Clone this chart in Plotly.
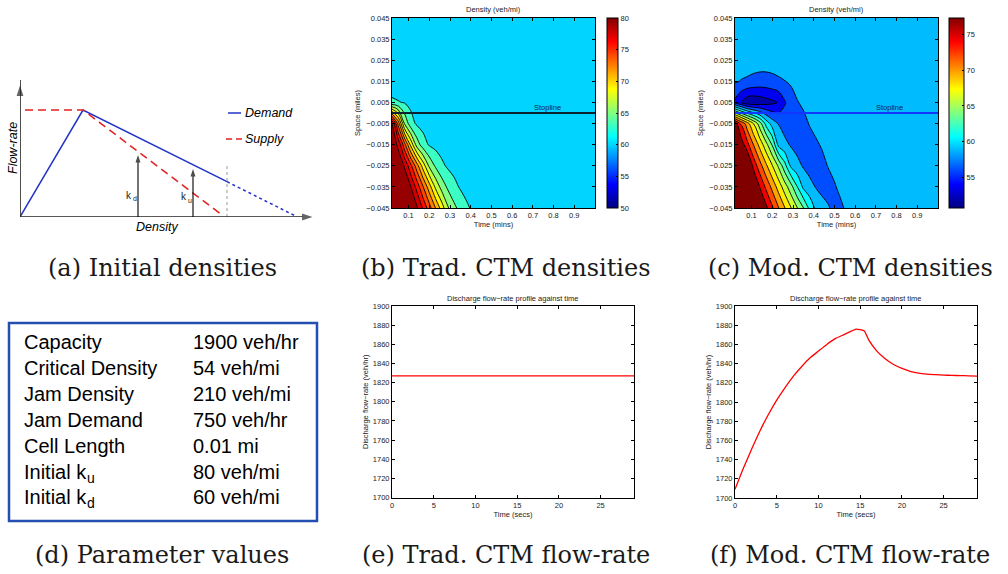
import plotly.graph_objects as go

W, H = 1008, 574


def px(X):
    return X / W


def py(Y):
    return 1 - Y / H


# ---------------- data ----------------
space = [-0.045, -0.035, -0.025, -0.015, -0.005, 0.005, 0.015, 0.025, 0.035, 0.045]
space_ticks = [-0.045, -0.035, -0.025, -0.015, -0.005, 0.005, 0.015, 0.025, 0.035, 0.045]
space_ticktext = ["\u22120.045", "\u22120.035", "\u22120.025", "\u22120.015", "\u22120.005",
                  "0.005", "0.015", "0.025", "0.035", "0.045"]
time_ticks = [0.1, 0.2, 0.3, 0.4, 0.5, 0.6, 0.7, 0.8, 0.9]

# (b) traditional CTM density (veh/mi), rows = cells (bottom -> top), columns = time (mins)
time_b = [0.02, 0.05, 0.08, 0.11, 0.14, 0.17, 0.2, 0.23, 0.26, 0.29, 0.32, 0.35, 0.38,
          0.41, 0.45, 0.5, 0.6, 0.7, 0.8, 0.9, 1.0]
dens_b = [
    [80, 80, 80, 80, 79.3, 76.7, 73.9, 71.0, 68.1, 65.2, 63.5, 62.3, 61.3, 60.7, 60.3, 60.1, 60, 60, 60, 60, 60],
    [80, 80, 80, 79.1, 76.3, 73.1, 69.9, 66.6, 64.2, 62.6, 61.5, 60.8, 60.4, 60.2, 60.1, 60, 60, 60, 60, 60, 60],
    [80, 80, 78.9, 75.6, 71.9, 68.1, 64.6, 62.7, 61.4, 60.7, 60.4, 60.2, 60.1, 60, 60, 60, 60, 60, 60, 60, 60],
    [80, 78.7, 73.8, 68.6, 64.1, 61.9, 60.8, 60.4, 60.2, 60.1, 60, 60, 60, 60, 60, 60, 60, 60, 60, 60, 60],
    [79.3, 72.3, 64.9, 61.8, 60.7, 60.3, 60.1, 60, 60, 60, 60, 60, 60, 60, 60, 60, 60, 60, 60, 60, 60],
    [61.3, 61.1, 60.9, 60.5, 60.2, 60.1, 60, 60, 60, 60, 60, 60, 60, 60, 60, 60, 60, 60, 60, 60, 60],
    [60, 60, 60, 60, 60, 60, 60, 60, 60, 60, 60, 60, 60, 60, 60, 60, 60, 60, 60, 60, 60],
    [60, 60, 60, 60, 60, 60, 60, 60, 60, 60, 60, 60, 60, 60, 60, 60, 60, 60, 60, 60, 60],
    [60, 60, 60, 60, 60, 60, 60, 60, 60, 60, 60, 60, 60, 60, 60, 60, 60, 60, 60, 60, 60],
    [60, 60, 60, 60, 60, 60, 60, 60, 60, 60, 60, 60, 60, 60, 60, 60, 60, 60, 60, 60, 60],
]

# (c) modified CTM density (veh/mi)
time_c = [0.02, 0.05, 0.08, 0.11, 0.14, 0.17, 0.2, 0.23, 0.26, 0.29, 0.32, 0.35, 0.38,
          0.41, 0.44, 0.47, 0.5, 0.53, 0.56, 0.6, 0.7, 0.8, 0.9, 1.0]
dens_c = [
    [80, 80, 80, 80, 79.5, 77.5, 75.3, 73.1, 71.1, 69.1, 67.1, 65.1, 62.5, 60.6, 59.9, 59.2, 58.4, 58.6, 59.4, 59.8, 60, 60, 60, 60],
    [80, 80, 80, 80, 76.9, 74.6, 72.4, 70.2, 68.0, 65.8, 63.1, 60.6, 59.7, 58.9, 58.3, 58.1, 58.8, 59.5, 59.8, 60, 60, 60, 60, 60],
    [80, 80, 80, 76.3, 73.8, 71.4, 69.1, 66.7, 63.7, 60.6, 59.6, 58.8, 58.2, 58.0, 58.4, 59.1, 59.6, 59.8, 60, 60, 60, 60, 60, 60],
    [80, 78.2, 75.6, 72.9, 70.3, 67.7, 64.8, 60.4, 59.5, 58.8, 58.3, 58.1, 58.3, 58.7, 59.2, 59.6, 59.8, 60, 60, 60, 60, 60, 60, 60],
    [78, 74.7, 71.8, 68.9, 65.9, 62.3, 60.1, 58.9, 58.2, 58.0, 58.2, 58.5, 59.1, 59.6, 59.8, 60, 60, 60, 60, 60, 60, 60, 60, 60],
    [56.5, 54.9, 53.6, 53.5, 53.8, 54.2, 54.6, 55.1, 56.8, 58.0, 58.9, 59.3, 59.6, 59.8, 60, 60, 60, 60, 60, 60, 60, 60, 60, 60],
    [59.2, 58.9, 58.7, 58.4, 58.2, 58.2, 58.4, 58.7, 58.95, 59.3, 59.6, 59.8, 60, 60, 60, 60, 60, 60, 60, 60, 60, 60, 60, 60],
    [60, 60, 60, 60, 60, 60, 60, 60, 60, 60, 60, 60, 60, 60, 60, 60, 60, 60, 60, 60, 60, 60, 60, 60],
    [60, 60, 60, 60, 60, 60, 60, 60, 60, 60, 60, 60, 60, 60, 60, 60, 60, 60, 60, 60, 60, 60, 60, 60],
    [60, 60, 60, 60, 60, 60, 60, 60, 60, 60, 60, 60, 60, 60, 60, 60, 60, 60, 60, 60, 60, 60, 60, 60],
]
stopline = 0.0

# colour-key ranges and ticks
cbar_b_range = [50, 80]
cbar_b_ticks = [50, 55, 60, 65, 70, 75, 80]
cbar_c_range = [50.65, 77.35]
cbar_c_ticks = [55, 60, 65, 70, 75]

# (e), (f) discharge flow-rate (veh/hr) against time (secs)
time_e = [0, 5, 10, 15, 20, 25, 29]
flow_e = [1827, 1827, 1827, 1827, 1827, 1827, 1827]
time_f = [0, 1, 2, 3, 4, 5, 6, 7, 8, 9, 10, 11, 12, 13, 14, 14.5, 15.5, 16, 17, 18, 19,
          20, 21, 22, 23, 24, 25, 26, 27, 28, 29]
flow_f = [1709, 1731, 1751, 1770, 1787, 1802, 1815, 1827, 1837, 1846, 1853, 1860, 1866,
          1870, 1874, 1876, 1874, 1865, 1853, 1845, 1839, 1835, 1832, 1830, 1829, 1828.5,
          1828, 1827.7, 1827.5, 1827.3, 1827]
flow_xticks = [0, 5, 10, 15, 20, 25]
flow_yticks = [1700, 1720, 1740, 1760, 1780, 1800, 1820, 1840, 1860, 1880, 1900]

# (d) parameter table (name, subscript, value)
param_names = ["Capacity", "Critical Density", "Jam Density", "Jam Demand", "Cell Length",
               "Initial k", "Initial k"]
param_subs = ["", "", "", "", "", "u", "d"]
param_values = ["1900 veh/hr", "54 veh/mi", "210 veh/mi", "750 veh/hr", "0.01 mi",
                "80 veh/mi", "60 veh/mi"]

# (a) schematic demand / supply diagram (arbitrary units)
fd_demand_k = [0, 63, 207]
fd_demand_q = [0, 107, 35.3]
fd_demand_ext_k = [207, 277]
fd_demand_ext_q = [35.3, 0.3]
fd_supply_k = [5, 63, 203]
fd_supply_q = [107, 107, 1.3]
fd_limit_k = 207
fd_limit_q = 52
fd_kd, fd_kd_q = 118, 66
fd_ku, fd_ku_q = 173, 52
fd_xmax, fd_ymax = 298, 137

captions = ["(a) Initial densities", "(b) Trad. CTM densities", "(c) Mod. CTM densities",
            "(d) Parameter values", "(e) Trad. CTM flow-rate", "(f) Mod. CTM flow-rate"]


# ---------------- styling helpers ----------------
def jet(n):
    n = min(max(n, 0.0), 1.0)
    r = min(max(1.5 - abs(4 * n - 3), 0), 1)
    g = min(max(1.5 - abs(4 * n - 2), 0), 1)
    b = min(max(1.5 - abs(4 * n - 1), 0), 1)
    return "rgb(%d,%d,%d)" % (round(255 * r), round(255 * g), round(255 * b))


jet_cs = [[s, jet(s)] for s in [0, 0.125, 0.375, 0.625, 0.875, 1]]


def band_scale(values, lo, hi):
    n = len(values) - 1
    return [[k / n, jet((v - lo) / (hi - lo))] for k, v in enumerate(values)]


band_vals_b = [60, 63, 65, 67, 69, 70.8, 72.5, 74.2, 75.9, 77.6, 79.3]
band_vals_c = [51.7, 53.6, 56.0, 58.9, 60.5, 62.4, 64.2, 66.0, 67.9, 69.8, 72.0, 74.5, 77.35]

SANS = "Liberation Sans"
TICKFONT = dict(family=SANS, size=7.5, color="#222")
TITLEFONT = dict(family=SANS, size=7.5, color="#222")


def ax_style(title, standoff, **kw):
    d = dict(showline=True, linecolor="black", linewidth=1, mirror="ticks", ticks="inside",
             ticklen=3, tickwidth=0.8, tickcolor="black", showgrid=False, zeroline=False,
             tickfont=TICKFONT, fixedrange=True, automargin=False,
             title=dict(text=title, font=TITLEFONT, standoff=standoff))
    d.update(kw)
    return d


fig = go.Figure()

# (b) contour
fig.add_trace(go.Contour(
    x=time_b, y=space, z=dens_b, xaxis="x", yaxis="y", autocontour=False,
    contours=dict(start=61, end=79, size=2, coloring="fill", showlines=True),
    line=dict(color="black", width=0.9, smoothing=1),
    colorscale=band_scale(band_vals_b, *cbar_b_range), showscale=False, hoverinfo="skip"))
fig.add_trace(go.Scatter(x=[time_b[0], time_b[-1]], y=[stopline, stopline], xaxis="x", yaxis="y",
                         mode="lines", line=dict(color="#0c2430", width=2.2), hoverinfo="skip"))
fig.add_trace(go.Scatter(
    x=[time_b[-1]], y=[stopline], xaxis="x", yaxis="y", mode="markers", hoverinfo="skip",
    marker=dict(size=1, opacity=0, color=[cbar_b_range[0]], colorscale=jet_cs,
                cmin=cbar_b_range[0], cmax=cbar_b_range[1], showscale=True,
                colorbar=dict(x=px(607), xanchor="left", xref="paper", y=py(113), yanchor="middle",
                              yref="paper", len=190, lenmode="pixels", thickness=11,
                              thicknessmode="pixels", xpad=0, ypad=0, outlinewidth=1,
                              outlinecolor="black", tickvals=cbar_b_ticks, ticks="inside",
                              ticklen=2, tickcolor="black", tickfont=TICKFONT))))

# (c) contour
fig.add_trace(go.Contour(
    x=time_c, y=space, z=dens_c, xaxis="x2", yaxis="y2", autocontour=False,
    contours=dict(start=55, end=77, size=2, coloring="fill", showlines=True),
    line=dict(color="black", width=0.9, smoothing=1),
    colorscale=band_scale(band_vals_c, *cbar_c_range), showscale=False, hoverinfo="skip"))
fig.add_trace(go.Scatter(x=[time_c[0], time_c[-1]], y=[stopline, stopline], xaxis="x2", yaxis="y2",
                         mode="lines", line=dict(color="#1238ff", width=2.2), hoverinfo="skip"))
fig.add_trace(go.Scatter(
    x=[time_c[-1]], y=[stopline], xaxis="x2", yaxis="y2", mode="markers", hoverinfo="skip",
    marker=dict(size=1, opacity=0, color=[cbar_c_range[0]], colorscale=jet_cs,
                cmin=cbar_c_range[0], cmax=cbar_c_range[1], showscale=True,
                colorbar=dict(x=px(949), xanchor="left", xref="paper", y=py(113), yanchor="middle",
                              yref="paper", len=190, lenmode="pixels", thickness=15,
                              thicknessmode="pixels", xpad=0, ypad=0, outlinewidth=1,
                              outlinecolor="black", tickvals=cbar_c_ticks, ticks="inside",
                              ticklen=2, tickcolor="black", tickfont=TICKFONT))))

# (e), (f) flow-rate lines
fig.add_trace(go.Scatter(x=time_e, y=flow_e, xaxis="x3", yaxis="y3", mode="lines",
                         line=dict(color="#ff0000", width=1.3), hoverinfo="skip"))
fig.add_trace(go.Scatter(x=time_f, y=flow_f, xaxis="x4", yaxis="y4", mode="lines",
                         line=dict(color="#ff0000", width=1.3, shape="spline", smoothing=0.4),
                         hoverinfo="skip"))

# (a) schematic diagram
BLUE = "#2233c8"
RED = "#e42020"
fig.add_trace(go.Scatter(x=fd_demand_k, y=fd_demand_q, xaxis="x5", yaxis="y5", mode="lines",
                         line=dict(color=BLUE, width=1.5), cliponaxis=False, hoverinfo="skip"))
fig.add_trace(go.Scatter(x=fd_demand_ext_k, y=fd_demand_ext_q, xaxis="x5", yaxis="y5", mode="lines",
                         line=dict(color=BLUE, width=1.5, dash="dot"), cliponaxis=False,
                         hoverinfo="skip"))
fig.add_trace(go.Scatter(x=fd_supply_k, y=fd_supply_q, xaxis="x5", yaxis="y5", mode="lines",
                         line=dict(color=RED, width=1.5, dash="8px,5px"), cliponaxis=False,
                         hoverinfo="skip"))
fig.add_trace(go.Scatter(x=[fd_limit_k, fd_limit_k], y=[0, fd_limit_q], xaxis="x5", yaxis="y5",
                         mode="lines", line=dict(color="#9a9a9a", width=1, dash="dot"),
                         cliponaxis=False, hoverinfo="skip"))


def arrow_trace(xs, ys, color, width, head):
    # a line whose last point carries an arrow-head marker oriented along the line
    fig.add_trace(go.Scatter(
        x=xs, y=ys, xaxis="x5", yaxis="y5", mode="lines+markers", cliponaxis=False,
        hoverinfo="skip", line=dict(color=color, width=width),
        marker=dict(symbol="arrow", angleref="previous", size=[0, head], color=color,
                    line=dict(width=0), standoff=head / 2)))


arrow_trace([0, fd_xmax], [0, 0], "#222", 1.6, 11)
arrow_trace([0, 0], [0, fd_ymax], "#222", 1.6, 11)
arrow_trace([fd_kd, fd_kd], [0, fd_kd_q], "black", 1.1, 8)
arrow_trace([fd_ku, fd_ku], [0, fd_ku_q], "black", 1.1, 8)

annotations = []


def txt(text, X, Y, size, family=SANS, color="black", xanchor="center", angle=0, yanchor="middle",
        pad=1):
    annotations.append(dict(text=text, x=px(X), y=py(Y), xref="paper", yref="paper",
                            xanchor=xanchor, yanchor=yanchor, showarrow=False, textangle=angle,
                            borderpad=pad, font=dict(family=family, size=size, color=color)))


txt("<i>Flow-rate</i>", 13, 148, 12.5, angle=-90)
txt("<i>Density</i>", 157, 227, 12.5)
txt("<i>Demand</i>", 243, 113, 12.5, xanchor="left")
txt("<i>Supply</i>", 243, 139, 12.5, xanchor="left")
# k_d and k_u labels (main letter + subscript)
txt("k", 133, 195, 10, color="#222", xanchor="right", pad=0)
txt("d", 132, 199, 7, color="#222", xanchor="left", pad=0)
txt("k", 187.5, 196, 10, color="#222", xanchor="right", pad=0)
txt("u", 186.5, 200, 7, color="#222", xanchor="left", pad=0)

shapes = [
    dict(type="line", xref="paper", yref="paper", x0=px(228), x1=px(241), y0=py(113), y1=py(113),
         line=dict(color=BLUE, width=1.5)),
    dict(type="line", xref="paper", yref="paper", x0=px(226), x1=px(242), y0=py(139), y1=py(139),
         line=dict(color=RED, width=1.5, dash="6px,4px")),
    dict(type="rect", xref="paper", yref="paper", x0=px(9), x1=px(317), y0=py(521), y1=py(323),
         line=dict(color="#2350b0", width=2.5)),
]

# (d) table text
row_y = [342, 368, 394, 420, 446, 472, 497]
for name, sub, val, Y in zip(param_names, param_subs, param_values, row_y):
    txt(name, 22, Y, 20, xanchor="left")
    if sub:
        txt(sub, 84.5, Y + 6, 14, xanchor="left")
    txt(val, 191, Y, 20, xanchor="left")

# panel titles
for cx in (493.5, 836.5):
    txt("Density (veh/mi)", cx, 9.5, 7.5, color="#222")
for cx in (513, 856):
    txt("Discharge flow\u2212rate profile against time", cx, 298.5, 7.5, color="#222")

# stopline labels
for xr, yr, tx in (("x", "y", 0.773), ("x2", "y2", 0.767)):
    annotations.append(dict(text="Stopline", x=tx, y=stopline, xref=xr, yref=yr, yshift=5,
                            showarrow=False, font=dict(family=SANS, size=7.5, color="#10283a")))

# captions
SERIF = "DejaVu Serif"
for cap, (X, Y) in zip(captions, [(162, 268), (506, 268), (850, 268),
                                   (162, 555), (506, 555), (850, 555)]):
    txt(cap, X, Y, 24, family=SERIF, color="#1a1a1a")

FLOW_T = "Discharge flow\u2212rate (veh/hr)"
fig.update_layout(
    width=W, height=H, margin=dict(l=0, r=0, t=0, b=0, autoexpand=False),
    paper_bgcolor="white", plot_bgcolor="white", showlegend=False,
    annotations=annotations, shapes=shapes,
    xaxis=ax_style("Time (mins)", 2, domain=[px(392), px(595)], anchor="y",
                   range=[time_b[0], time_b[-1]], tickvals=time_ticks),
    yaxis=ax_style("Space (miles)", 4, domain=[py(208), py(18)], anchor="x",
                   range=[space[0], space[-1]], tickvals=space_ticks, ticktext=space_ticktext),
    xaxis2=ax_style("Time (mins)", 2, domain=[px(735), px(938)], anchor="y2",
                    range=[time_c[0], time_c[-1]], tickvals=time_ticks),
    yaxis2=ax_style("Space (miles)", 4, domain=[py(208), py(18)], anchor="x2",
                    range=[space[0], space[-1]], tickvals=space_ticks, ticktext=space_ticktext),
    xaxis3=ax_style("Time (secs)", 2, domain=[px(392), px(634)], anchor="y3", range=[0, 29],
                    tickvals=flow_xticks),
    yaxis3=ax_style(FLOW_T, 3, domain=[py(497.5), py(306)], anchor="x3", range=[1700, 1900],
                    tickvals=flow_yticks),
    xaxis4=ax_style("Time (secs)", 2, domain=[px(735), px(977)], anchor="y4", range=[0, 29],
                    tickvals=flow_xticks),
    yaxis4=ax_style(FLOW_T, 3, domain=[py(498), py(306)], anchor="x4", range=[1700, 1900],
                    tickvals=flow_yticks),
    xaxis5=dict(domain=[px(20), px(318)], anchor="y5", range=[0, fd_xmax], visible=False,
                fixedrange=True),
    yaxis5=dict(domain=[py(217), py(80)], anchor="x5", range=[0, fd_ymax], visible=False,
                fixedrange=True),
)

fig.write_html("out.html")
